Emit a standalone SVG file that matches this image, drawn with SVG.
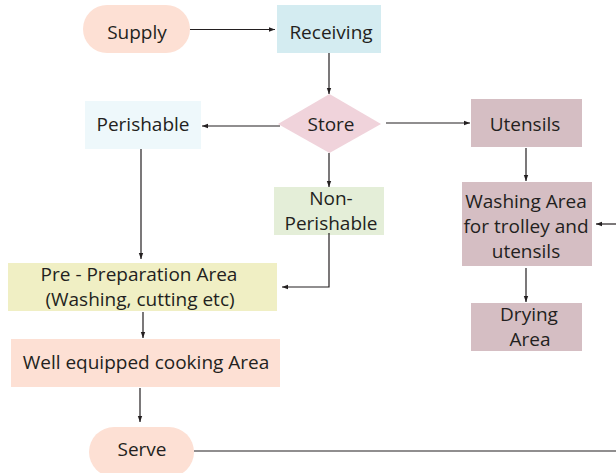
<svg xmlns="http://www.w3.org/2000/svg" width="616" height="473" viewBox="0 0 616 473">
<defs>
<marker id="ah" viewBox="0 0 6 6" refX="6" refY="3" markerWidth="6" markerHeight="6" orient="auto" markerUnits="userSpaceOnUse">
<path d="M0,0.8 L6,3 L0,5.2 Z" fill="#231f20"/>
</marker>
<style>
text{font-family:"Open Sans","Noto Sans",sans-serif;font-size:19px;fill:#231f20;text-anchor:middle}
.c{fill:none;stroke:#231f20;stroke-width:1.2}
.a{marker-end:url(#ah)}
</style>
</defs>
<rect width="616" height="473" fill="#fff"/>
<g id="supply"><rect x="83" y="5" width="107" height="48" rx="24" fill="#fde0d4"/><text x="137" y="39">Supply</text></g>
<g id="receiving"><rect x="277" y="5" width="104" height="48" fill="#d4ecf1"/><text x="331" y="39">Receiving</text></g>
<g id="store"><polygon points="278,124 329.5,94 381,124 329.5,153" fill="#f0d3db"/><text x="331" y="131">Store</text></g>
<g id="perishable"><rect x="85" y="101" width="116" height="48" fill="#eef8fb"/><text x="143" y="131">Perishable</text></g>
<g id="utensils"><rect x="471" y="99" width="111" height="48" fill="#d5bec3"/><text x="525" y="131">Utensils</text></g>
<g id="washing"><rect x="462" y="182" width="130" height="84" fill="#d5bec3"/><text x="526" y="208">Washing Area</text><text x="526" y="233">for trolley and</text><text x="526" y="258">utensils</text></g>
<g id="drying"><rect x="471" y="303" width="111" height="48" fill="#d5bec3"/><text x="529" y="321">Drying</text><text x="530" y="346">Area</text></g>
<g id="nonperishable"><rect x="274" y="187" width="110" height="48" fill="#e4eed8"/><text x="331" y="205">Non-</text><text x="331" y="230">Perishable</text></g>
<g id="preprep"><rect x="8" y="263" width="269" height="48" fill="#f0efc4"/><text x="139" y="281">Pre - Preparation Area</text><text x="140" y="306">(Washing, cutting etc)</text></g>
<g id="cooking"><rect x="11" y="339" width="269" height="48" fill="#fde0d4"/><text x="146" y="369">Well equipped cooking Area</text></g>
<g id="serve"><rect x="89" y="427" width="105" height="50" rx="25" fill="#fde0d4"/><text x="142" y="456">Serve</text></g>
<g id="connectors">
<line class="c a" x1="190" y1="29.5" x2="275" y2="29.5"/>
<line class="c a" x1="329" y1="53" x2="329" y2="94"/>
<line class="c a" x1="280" y1="126" x2="202" y2="126"/>
<line class="c a" x1="386" y1="123" x2="470" y2="123"/>
<line class="c a" x1="526" y1="148" x2="526" y2="181"/>
<line class="c a" x1="616" y1="224" x2="596" y2="224"/>
<line class="c a" x1="526" y1="268" x2="526" y2="302"/>
<line class="c a" x1="329" y1="153" x2="329" y2="187"/>
<polyline class="c a" points="329,233 329,287 282,287"/>
<line class="c a" x1="141" y1="149" x2="141" y2="259"/>
<line class="c a" x1="143" y1="312" x2="143" y2="338"/>
<line class="c a" x1="140" y1="388" x2="140" y2="422"/>
<line class="c" x1="194" y1="451" x2="616" y2="451"/>
</g>
</svg>
